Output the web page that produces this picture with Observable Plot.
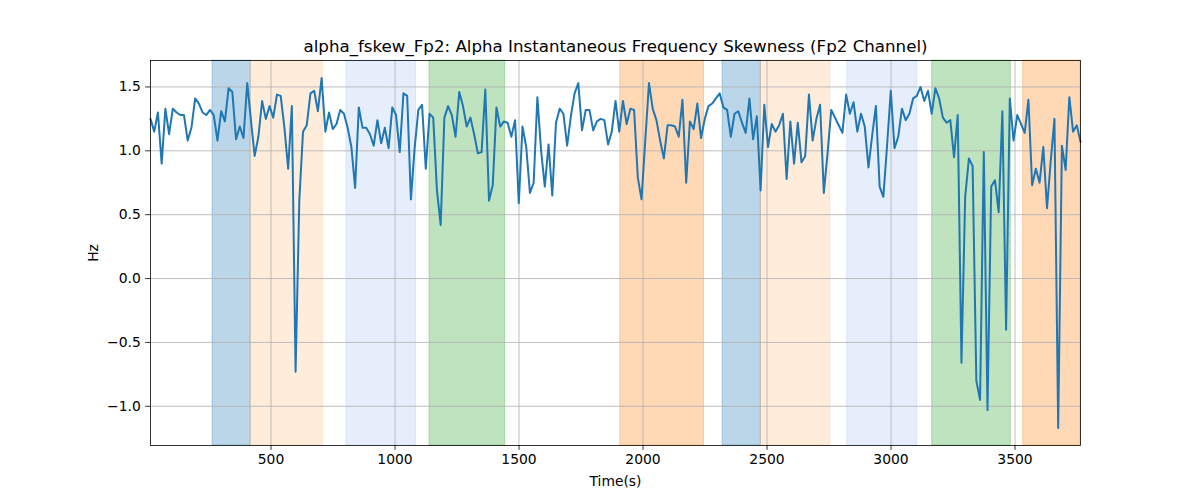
<!DOCTYPE html>
<html>
<head>
<meta charset="utf-8">
<script src="https://cdn.jsdelivr.net/npm/d3@7"></script>
<script src="https://cdn.jsdelivr.net/npm/@observablehq/plot@0.6"></script>
<style>
  html, body { margin: 0; padding: 0; background: white; }
  #chart { width: 1200px; height: 500px; }
</style>
</head>
<body>
<div id="chart"></div>
<script>
const chartTitle = "alpha_fskew_Fp2: Alpha Instantaneous Frequency Skewness (Fp2 Channel)";
const xLabel = "Time(s)";
const yLabel = "Hz";

const xTicks = [500, 1000, 1500, 2000, 2500, 3000, 3500];
const yTicks = [-1.0, -0.5, 0.0, 0.5, 1.0, 1.5];

const times = [
  14,29,44,59,74,89,104,119,134,149,
  164,179,194,209,224,239,254,269,284,299,
  314,329,344,359,374,389,404,419,434,449,
  464,479,494,509,524,539,554,569,584,599,
  614,629,644,659,674,689,704,719,734,749,
  764,779,794,809,824,839,854,869,884,899,
  914,929,944,959,974,989,1004,1019,1034,1049,
  1064,1079,1094,1109,1124,1139,1154,1169,1184,1199,
  1214,1229,1244,1259,1274,1289,1304,1319,1334,1349,
  1364,1379,1394,1409,1424,1439,1454,1469,1484,1499,
  1514,1529,1544,1559,1574,1589,1604,1619,1634,1649,
  1664,1679,1694,1709,1724,1739,1754,1769,1784,1799,
  1814,1829,1844,1859,1874,1889,1904,1919,1934,1949,
  1964,1979,1994,2009,2024,2039,2054,2069,2084,2099,
  2114,2129,2144,2159,2174,2189,2204,2219,2234,2249,
  2264,2279,2294,2309,2324,2339,2354,2369,2384,2399,
  2414,2429,2444,2459,2474,2489,2504,2519,2534,2549,
  2564,2579,2594,2609,2624,2639,2654,2669,2684,2699,
  2714,2729,2744,2759,2774,2789,2804,2819,2834,2849,
  2864,2879,2894,2909,2924,2939,2954,2969,2984,2999,
  3014,3029,3044,3059,3074,3089,3104,3119,3134,3149,
  3164,3179,3194,3209,3224,3239,3254,3269,3284,3299,
  3314,3329,3344,3359,3374,3389,3404,3419,3434,3449,
  3464,3479,3494,3509,3524,3539,3554,3569,3584,3599,
  3614,3629,3644,3659,3674,3689,3704,3719,3734,3749,
  3764
];

const values = [
  1.25,1.15,1.30,0.90,1.33,1.13,1.33,1.30,1.28,1.28,
  1.08,1.18,1.41,1.37,1.30,1.28,1.32,1.28,1.08,1.31,
  1.23,1.49,1.46,1.09,1.19,1.10,1.53,1.24,0.96,1.11,
  1.39,1.25,1.35,1.26,1.44,1.43,1.18,0.86,1.35,-0.73,
  0.61,1.15,1.20,1.45,1.47,1.31,1.57,1.15,1.30,1.17,
  1.21,1.32,1.29,1.18,1.03,0.71,1.34,1.18,1.18,1.13,
  1.04,1.24,1.06,1.18,1.02,1.34,1.28,0.99,1.45,1.43,
  0.62,1.02,1.32,1.36,0.86,1.29,1.26,0.69,0.42,1.26,
  1.35,1.28,1.11,1.46,1.35,1.19,1.26,1.13,0.98,0.99,
  1.48,0.61,0.73,1.34,1.19,1.23,1.22,1.11,1.24,0.59,
  1.19,1.03,0.67,0.75,1.42,1.00,0.72,1.05,0.65,1.22,
  1.33,1.29,1.04,1.27,1.45,1.53,1.16,1.32,1.32,1.16,
  1.23,1.25,1.24,1.05,1.15,1.39,1.15,1.39,1.21,1.33,
  1.32,0.79,0.62,1.08,1.53,1.33,1.24,1.08,0.94,1.20,
  1.20,1.19,1.11,1.40,0.75,1.23,1.17,1.37,1.10,1.25,
  1.35,1.37,1.41,1.45,1.34,1.32,1.11,1.29,1.31,1.22,
  1.14,1.41,1.09,1.27,0.69,1.36,1.03,1.21,1.15,1.20,
  1.29,0.78,1.23,0.90,1.22,0.91,0.96,1.44,1.08,1.25,
  1.36,0.67,0.98,1.32,1.26,1.20,1.14,1.44,1.29,1.38,
  1.15,1.29,1.19,0.87,1.12,1.35,0.72,0.64,1.04,1.47,
  1.02,1.11,1.33,1.24,1.29,1.41,1.43,1.50,1.39,1.47,
  1.29,1.49,1.41,1.26,1.22,1.24,0.95,1.28,-0.66,0.64,
  0.94,0.88,-0.80,-0.95,0.99,-1.03,0.72,0.77,0.52,1.31,
  -0.40,1.41,1.08,1.28,1.21,1.14,1.40,0.73,0.86,0.75,
  1.03,0.55,0.92,1.25,-1.17,1.04,0.85,1.42,1.15,1.20,
  1.07
];

const spanStart = [264, 418, 804, 1139, 1908, 2321, 2475, 2823, 3166, 3533];
const spanEnd   = [418, 709, 1085, 1444, 2246, 2475, 2755, 3106, 3483, 3764];
const spanKind  = ["A", "B", "C", "D", "E", "A", "B", "C", "D", "E"];

// build tables for the library
const series = times.map((t, i) => ({t, v: values[i]}));
const spans = spanStart.map((s, i) => ({start: s, end: spanEnd[i], kind: spanKind[i]}));

const kindStyle = {
  A: {color: "#1f77b4", alpha: 0.3},
  B: {color: "#ff7f0e", alpha: 0.15},
  C: {color: "#6495ed", alpha: 0.16},
  D: {color: "#2ca02c", alpha: 0.3},
  E: {color: "#ff7f0e", alpha: 0.3}
};

const spanMarks = Object.keys(kindStyle).map(k => Plot.rect(spans.filter(d => d.kind === k), {
  x1: "start", x2: "end",
  fill: kindStyle[k].color, fillOpacity: kindStyle[k].alpha,
  stroke: kindStyle[k].color, strokeOpacity: kindStyle[k].alpha, strokeWidth: 1
}));

const fmtY = d => (d < 0 ? "\u2212" : "") + Math.abs(d).toFixed(1);
const fs = 13.89;

const plot = Plot.plot({
  width: 1200,
  height: 500,
  marginLeft: 150,
  marginRight: 120,
  marginTop: 60,
  marginBottom: 55,
  style: {fontFamily: "'DejaVu Sans', sans-serif", fontSize: fs + "px", color: "black", background: "white"},
  x: {domain: [14, 3764], label: null},
  y: {domain: [-1.307, 1.707], label: null},
  marks: [
    ...spanMarks,
    Plot.gridX(xTicks, {stroke: "#b0b0b0", strokeOpacity: 1, strokeWidth: 0.8}),
    Plot.gridY(yTicks, {stroke: "#b0b0b0", strokeOpacity: 1, strokeWidth: 0.8}),
    Plot.line(series, {x: "t", y: "v", stroke: "#1f77b4", strokeWidth: 2, strokeLinejoin: "round"}),
    Plot.frame({stroke: "black", strokeWidth: 0.8}),
    Plot.axisX(xTicks, {tickSize: 4.86, tickPadding: 3.5, strokeWidth: 0.8, tickFormat: d => String(d), label: null, fill: "black", fontSize: fs}),
    Plot.axisY(yTicks, {tickSize: 4.86, tickPadding: 4.86, strokeWidth: 0.8, tickFormat: fmtY, label: null, fill: "black", fontSize: fs}),
    Plot.text([chartTitle], {frameAnchor: "top", lineAnchor: "middle", textAnchor: "middle", dy: -14, fontSize: 16.67, fill: "black"}),
    Plot.text([xLabel], {frameAnchor: "bottom", lineAnchor: "middle", textAnchor: "middle", dy: 36, fontSize: fs, fill: "black"}),
    Plot.text([yLabel], {frameAnchor: "left", lineAnchor: "middle", textAnchor: "middle", dx: -57, rotate: -90, fontSize: fs, fill: "black"})
  ]
});

document.getElementById("chart").appendChild(plot);
</script>
</body>
</html>
